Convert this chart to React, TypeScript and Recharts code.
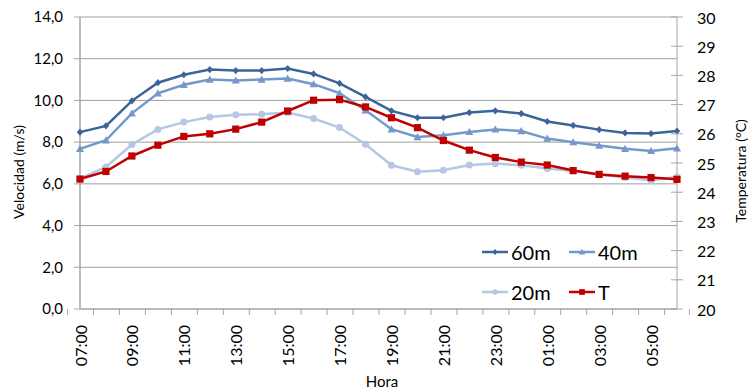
import React from 'react';
import { LineChart, Line, XAxis, YAxis, CartesianGrid } from 'recharts';

const categories = ['07:00','08:00','09:00','10:00','11:00','12:00','13:00','14:00','15:00','16:00','17:00','18:00','19:00','20:00','21:00','22:00','23:00','00:00','01:00','02:00','03:00','04:00','05:00','06:00'];
const s60 = [8.48, 8.78, 9.98, 10.85, 11.23, 11.48, 11.43, 11.43, 11.53, 11.27, 10.82, 10.17, 9.5, 9.17, 9.17, 9.42, 9.5, 9.37, 8.99, 8.8, 8.6, 8.44, 8.41, 8.53];
const s40 = [7.68, 8.09, 9.38, 10.34, 10.75, 11.0, 10.96, 11.0, 11.05, 10.78, 10.35, 9.53, 8.62, 8.25, 8.33, 8.49, 8.61, 8.53, 8.17, 8.0, 7.84, 7.68, 7.58, 7.71];
const s20 = [6.25, 6.81, 7.89, 8.61, 8.96, 9.21, 9.31, 9.34, 9.42, 9.13, 8.7, 7.9, 6.89, 6.58, 6.65, 6.9, 6.97, 6.89, 6.74, 6.62, 6.45, 6.3, 6.17, 6.33];
const sT = [24.45, 24.71, 25.24, 25.61, 25.91, 26.0, 26.16, 26.4, 26.78, 27.15, 27.17, 26.92, 26.55, 26.21, 25.77, 25.44, 25.19, 25.03, 24.93, 24.74, 24.61, 24.55, 24.5, 24.44];

const leftTicks = [0, 2, 4, 6, 8, 10, 12, 14];
const rightTicks = [20, 21, 22, 23, 24, 25, 26, 27, 28, 29, 30];

const seriesNames = ['60m', '40m', '20m', 'T'];
const seriesKeys = ['s60', 's40', 's20', 'sT'];
const seriesColors = ['#3B6497', '#7598CA', '#B5C7E3', '#C00000'];
const seriesShapes = ['diamond', 'triangle', 'circle', 'square'];

const data = categories.map((c, i) => ({ hora: c, s60: s60[i], s40: s40[i], s20: s20[i], sT: sT[i] }));

const FONT = 'Lato, "Open Sans", sans-serif';
const AXIS_GREY = '#A6A6A6';
const W = 749;
const H = 389;
const PLOT_LEFT = 80;
const PLOT_RIGHT = 677;
const HALF_BAND = (PLOT_RIGHT - PLOT_LEFT) / categories.length / 2;

function Marker({ shape, cx, cy, color, scale = 1 }: any) {
  if (shape === 'diamond') {
    const a = 3.2 * scale, b = 3.6 * scale;
    return <polygon points={`${cx},${cy - b} ${cx + a},${cy} ${cx},${cy + b} ${cx - a},${cy}`} fill={color} />;
  }
  if (shape === 'triangle') {
    const s = 4 * scale;
    return <polygon points={`${cx},${cy - s} ${cx + s},${cy + s * 0.8} ${cx - s},${cy + s * 0.8}`} fill={color} />;
  }
  if (shape === 'circle') {
    return <circle cx={cx} cy={cy} r={3.5 * scale} fill={color} />;
  }
  const h = 3.6 * scale;
  return <rect x={cx - h} y={cy - h} width={h * 2} height={h * 2} fill={color} />;
}

const makeDot = (shape: string, color: string) => (props: any) => {
  const { cx, cy, index } = props;
  if (cx == null || cy == null) return <g key={`e-${index}`} />;
  return <g key={`d-${shape}-${index}`}><Marker shape={shape} cx={cx} cy={cy} color={color} /></g>;
};

const XTick = (props: any) => {
  const { x, y, payload, index } = props;
  const isLast = index === categories.length - 1;
  return (
    <g>
      <line x1={x - HALF_BAND} y1={y} x2={x - HALF_BAND} y2={y + 6} stroke={AXIS_GREY} />
      {isLast && <line x1={x + HALF_BAND} y1={y} x2={x + HALF_BAND} y2={y + 6} stroke={AXIS_GREY} />}
      {index % 2 === 0 && (
        <text
          x={x}
          y={y + 16}
          transform={`rotate(-90, ${x}, ${y + 16})`}
          textAnchor="end"
          dominantBaseline="central"
          fontSize={16}
          fontFamily={FONT}
          fill="#000"
        >
          {payload.value}
        </text>
      )}
    </g>
  );
};

const RightTick = (props: any) => {
  const { x, y, payload } = props;
  return (
    <g>
      <line x1={x - 6} y1={y} x2={x + 6} y2={y} stroke={AXIS_GREY} />
      <text x={x + 20} y={y} textAnchor="start" dominantBaseline="central" fontSize={16} fontFamily={FONT} fill="#000">
        {payload.value}
      </text>
    </g>
  );
};

const LEGEND_X = [482, 569];
const LEGEND_Y = [252, 292];

export default function App() {
  return (
    <div style={{ position: 'absolute', left: 0, top: 0, width: W, height: H, background: '#fff', fontFamily: FONT }}>
      <LineChart width={W} height={H} data={data} margin={{ top: 17, right: 0, bottom: 0, left: 0 }}>
        <CartesianGrid vertical={false} stroke="#A0A0A0" strokeWidth={1} yAxisId="left" />
        <XAxis
          dataKey="hora"
          height={80}
          interval={0}
          tickLine={false}
          tickSize={0}
          tickMargin={0}
          axisLine={{ stroke: AXIS_GREY }}
          tick={<XTick />}
          label={{
            content: () => (
              <text x={382} y={387} textAnchor="middle" fontSize={15} fontFamily={FONT} fill="#000">Hora</text>
            ),
          }}
        />
        <YAxis
          yAxisId="left"
          orientation="left"
          width={80}
          domain={[0, 14]}
          ticks={leftTicks}
          interval={0}
          tickFormatter={(v: number) => v.toFixed(1).replace('.', ',')}
          tick={{ fill: '#000', fontSize: 15, fontFamily: FONT }}
          tickSize={6}
          tickMargin={11}
          tickLine={{ stroke: AXIS_GREY }}
          axisLine={{ stroke: AXIS_GREY, strokeWidth: 1.5 }}
          label={{
            content: () => (
              <text transform="translate(18,172) rotate(-90)" textAnchor="middle" dominantBaseline="central" fontSize={14} fontFamily={FONT} fill="#000">
                Velocidad (m/s)
              </text>
            ),
          }}
        />
        <YAxis
          yAxisId="right"
          orientation="right"
          width={72}
          domain={[20, 30]}
          ticks={rightTicks}
          interval={0}
          tickLine={false}
          tickSize={0}
          tickMargin={0}
          tick={<RightTick />}
          axisLine={{ stroke: AXIS_GREY }}
          label={{
            content: () => (
              <text transform="translate(740,171) rotate(-90)" textAnchor="middle" dominantBaseline="central" fontSize={14} fontFamily={FONT} fill="#000">
                Temperatura (°C)
              </text>
            ),
          }}
        />
        {seriesKeys.map((k, i) => (
          <Line
            key={k}
            yAxisId={k === 'sT' ? 'right' : 'left'}
            dataKey={k}
            name={seriesNames[i]}
            stroke={seriesColors[i]}
            strokeWidth={2.5}
            type="linear"
            dot={makeDot(seriesShapes[i], seriesColors[i])}
            activeDot={false}
            isAnimationActive={false}
          />
        ))}
      </LineChart>
      <svg width={W} height={H} style={{ position: 'absolute', left: 0, top: 0, pointerEvents: 'none' }}>
        {seriesNames.map((n, i) => {
          const x = LEGEND_X[i % 2];
          const y = LEGEND_Y[Math.floor(i / 2)];
          return (
            <g key={n}>
              <line x1={x} y1={y} x2={x + 26} y2={y} stroke={seriesColors[i]} strokeWidth={2.5} />
              <Marker shape={seriesShapes[i]} cx={x + 13} cy={y} color={seriesColors[i]} scale={0.8} />
              <text x={x + 29} y={y} dominantBaseline="central" fontSize={20} fontFamily={FONT} fill="#000">{n}</text>
            </g>
          );
        })}
      </svg>
    </div>
  );
}
